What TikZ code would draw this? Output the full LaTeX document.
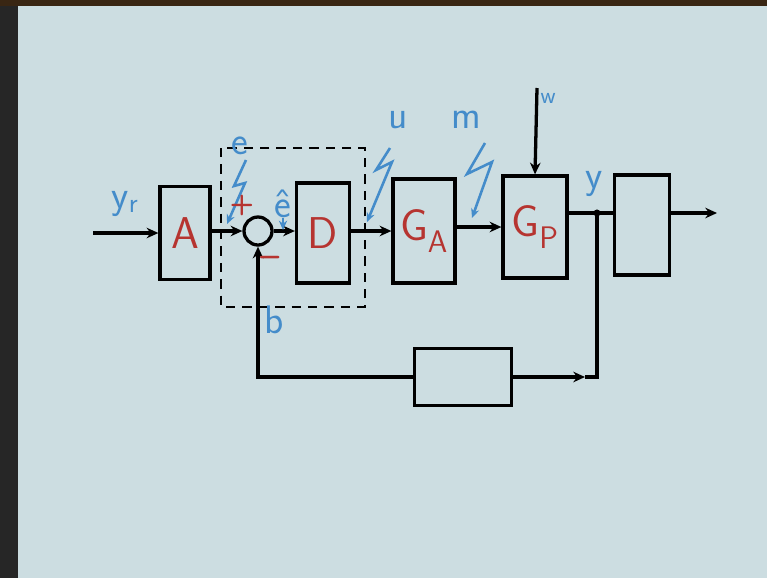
\documentclass[tikz,border=0pt]{standalone}
\usetikzlibrary{arrows.meta,positioning}
\definecolor{board}{RGB}{204,221,225}
\definecolor{chalk}{RGB}{68,140,202}
\definecolor{ink}{RGB}{182,52,48}
\begin{document}
\begin{tikzpicture}[x=0.03cm,y=-0.03cm,line width=2.8pt,
	>={Stealth[length=10pt,width=9pt]},
	blk/.style={draw,inner sep=0pt,text=ink,font=\sffamily\fontsize{38}{38}\selectfont},
	sig/.style={text=chalk,font=\sffamily\fontsize{34}{34}\selectfont,inner sep=0pt},
	bolt/.style={chalk,line width=2.2pt,->,>={Stealth[length=8pt,width=7pt]}}]
	\useasboundingbox (0,0) rectangle (767,578);
	\fill[board] (0,0) rectangle (767,578);
	\fill[black!85] (0,0) rectangle (18,578);
	\fill[black!70!brown] (0,0) rectangle (767,6);
	% blocks
	\foreach \n/\x/\y/\w/\h/\t in {A/185/233/50/93/A,D/323/233/53/100/D,GA/424/231/62/104/{G\textsubscript{A}},GP/535/227/64/102/{G\textsubscript{P}},H/642/225/55/100/{},fb/463/377/97/57/{}}
	\node[blk,minimum width=\w*0.03cm,minimum height=\h*0.03cm] (\n) at (\x,\y) {\t};
	\node[draw,circle,minimum size=28*0.03cm,inner sep=0pt] (sum) at (258,231) {};
	\path (93,233) coordinate (in)
		(597,213) coordinate (jn)
		(717,213) coordinate (out)
		(537,88) coordinate (w)
		(585,377) coordinate (fbm);
	% forward path
	\draw[->] (in)--(A.west);
	\draw[->] (A.east |- sum)--(sum.west);
	\draw[->] (sum.east)--(sum -| D.west);
	\draw[->] (D.east |- GA.west)--(GA.west);
	\draw[->] (GA.east |- GP.west)--(GP.west);
	\draw (GP.east |- jn)--(jn)--(jn -| H.west);
	\draw[->] (H.east |- jn)--(out);
	\draw[->] (w)--(GP.north);
	\fill (jn) circle (3pt);
	% feedback
	\draw (fbm)--(jn |- fb.east)--(jn);
	\draw[->] (fb.east)--(fbm);
	\draw[->] (fb.west)--(sum |- fb.west)--(sum.south);
	\draw[dashed,line width=1.8pt,dash pattern=on 8pt off 6pt] (221,148) rectangle (365,307);
	% signal labels
	\foreach \p/\t in {{(125,204)}/{y\textsubscript{r}},{(240,146)}/{e},{(283,204)}/{\^e},{(398,120)}/{u},{(466,120)}/{m},{(594,184)}/{y},{(274,320)}/{b}}
	\node[sig] at \p {\t};
	\node[sig,font=\sffamily\fontsize{20}{20}\selectfont] at (548,98) {w};
	\draw[bolt] (246,160)--(234,186)--(245,183)--(227,224);
	\draw[bolt] (390,148)--(376,170)--(392,162)--(367,222);
	\draw[bolt] (485,143)--(467,174)--(492,162)--(472,218);
	\draw[bolt] (283,218)--(283,230);
	\node[text=ink,font=\sffamily\bfseries\fontsize{24}{24}\selectfont] at (242,205) {+};
	\node[text=ink,font=\sffamily\bfseries\fontsize{30}{30}\selectfont] at (270,262) {--};
\end{tikzpicture}
\end{document}
